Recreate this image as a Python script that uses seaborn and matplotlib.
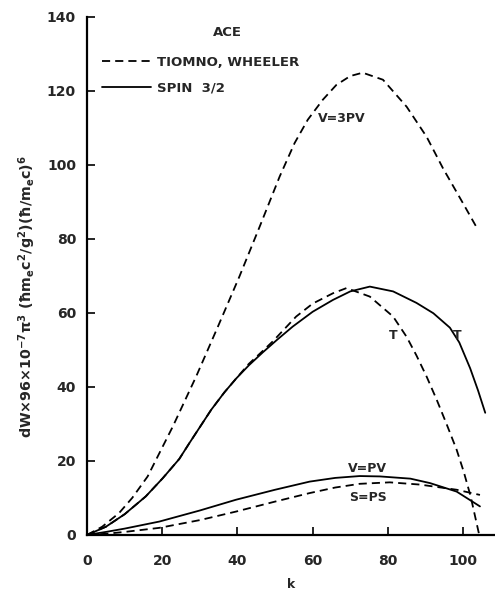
"""
ACE grafiği: dW spektrumu, Tiomno-Wheeler ve spin 3/2 kuplajları karşılaştırması.
Değerler taranmış orijinal şekilden gözle okunmuştur.
"""

import matplotlib
matplotlib.use("Agg")
import matplotlib.pyplot as plt
import numpy as np
import pandas as pd
import seaborn as sns

# eğriler için okunan değerler (k, dW)
k_v3pv = [0, 4, 8.5, 12, 16.1, 22.8, 29, 34.8, 40.5, 45.9, 51.2, 55.2, 58.7, 62.7, 66.3, 70,
          73.3, 78.7, 85, 90.3, 94.7, 100, 104]
w_v3pv = [0, 2.2, 5.9, 10, 15.8, 29.3, 42.8, 56.3, 69.8, 83.3, 96.8, 105.9, 112.2, 117.6, 121.6, 124,
          124.9, 123, 115.7, 107.6, 99, 89.6, 82.4]

k_t_tw = [0, 5, 10, 15.6, 20.1, 24.5, 27.2, 33, 36.5, 39.6, 43, 46.5, 49.4, 55.6, 60, 65.4, 69, 75.2,
          81.4, 85, 87.6, 90.3, 93, 95.6, 98.3, 100.2, 102, 104.3]
w_t_tw = [0, 2.2, 5.6, 10.4, 15.3, 20.5, 24.8, 33.8, 38.5, 42.2, 46.2, 49.5, 52.3, 59, 62.5, 65.3, 66.7, 64.4,
          59, 53.5, 48.5, 42.8, 36.5, 30, 23, 17, 10.5, 0]

k_t_spin = [0, 5, 10, 15.6, 20.1, 24.5, 27.2, 33, 36.5, 39.6, 43, 46.7, 50.5, 54.7, 60, 65.4, 70, 75.2,
            81.4, 87.6, 92.1, 96.5, 99, 101.9, 104, 105.9]
w_t_spin = [0, 2.2, 5.6, 10.4, 15.3, 20.5, 24.8, 33.8, 38.5, 42.2, 45.8, 49.3, 52.7, 56.3, 60.3, 63.5, 65.8,
            67.1, 65.8, 62.7, 59.9, 56, 52, 45, 39, 33]

k_vpv = [0, 5, 10, 19.2, 30, 39.6, 50, 59.2, 66, 72.5, 77.9, 86, 91.2, 98.3, 104.5]
w_vpv = [0, 0.8, 1.7, 3.6, 6.6, 9.5, 12.2, 14.4, 15.4, 15.9, 15.8, 15.2, 14, 11.7, 7.7]

k_sps = [0, 5, 10, 19.2, 30, 39.6, 50, 59.2, 66, 72.5, 80.5, 88.5, 98.3, 104.5]
w_sps = [0, 0.3, 0.8, 1.9, 4, 6.3, 9, 11.3, 12.8, 13.8, 14.2, 13.6, 12.2, 10.8]

TW = "TIOMNO, WHEELER"
SPIN = "SPIN  3/2"

# eğri etiketleri (metin, k, dW)
curve_labels = [("V=3PV", 61.5, 112.5), ("V=PV", 74.6, 18), ("S=PS", 74.6, 10),
                ("T", 81.4, 54), ("T", 98.4, 54)]


def build_frame():
    """Tüm eğrileri uzun formatlı tek tabloya toplar"""
    parts = [
        ("V=3PV", TW, k_v3pv, w_v3pv),
        ("T tw", TW, k_t_tw, w_t_tw),
        ("T spin", SPIN, k_t_spin, w_t_spin),
        ("V=PV", SPIN, k_vpv, w_vpv),
        ("S=PS", TW, k_sps, w_sps),
    ]
    rows = []
    for curve, theory, ks, ws in parts:
        for k, w in zip(ks, ws):
            rows.append({"curve": curve, "theory": theory, "k": k, "w": w})
    return pd.DataFrame(rows)


def main():
    sns.set_theme(style="ticks")
    plt.rcParams["font.family"] = ["DejaVu Sans"]
    plt.rcParams["mathtext.default"] = "bf"

    df = build_frame()

    fig = plt.figure(figsize=(4.95, 6.01), dpi=100)
    ax = fig.add_axes([0.176, 0.11, 0.824, 0.862])

    sns.lineplot(data=df, x="k", y="w", style="theory", units="curve", estimator=None,
                 sort=False, color="black", linewidth=1.3,
                 dashes={TW: (4.5, 2.8), SPIN: ""}, style_order=[TW, SPIN], ax=ax)

    ax.set_xlim(0, 108.5)
    ax.set_ylim(0, 140)
    ax.set_xticks(np.arange(0, 101, 20))
    ax.set_yticks(np.arange(0, 141, 20))
    ax.tick_params(direction="in", length=6, width=1.2, labelsize=10, color="black")
    ax.tick_params(axis="x", pad=14)
    ax.tick_params(axis="y", pad=8)
    for lab in ax.get_xticklabels() + ax.get_yticklabels():
        lab.set_fontweight("bold")

    sns.despine(ax=ax)
    for side in ("left", "bottom"):
        ax.spines[side].set_linewidth(1.6)
        ax.spines[side].set_color("black")

    ax.set_xlabel("k", fontsize=9, fontweight="bold", labelpad=7)
    ax.set_ylabel(r"dW$\times$96$\times$10$^{-7}\pi^3$ ($\hbar$m$_e$c$^2$/g$^2$)($\hbar$/m$_e$c)$^6$",
                  fontsize=10.3, fontweight="bold")
    ax.yaxis.set_label_coords(-0.12, 0.46)

    for text, k, w in curve_labels:
        ax.text(k, w, text, fontsize=9, fontweight="bold", ha="left" if text == "V=3PV" else "center",
                va="center")

    ax.text(37.4, 135.7, "ACE", fontsize=9.5, fontweight="bold", ha="center", va="center")

    leg = ax.legend(loc="upper left", bbox_to_anchor=(0.037, 0.925), frameon=False,
                    borderaxespad=0, borderpad=0, handlelength=3.7, handletextpad=0.45,
                    labelspacing=1.0, fontsize=9.5)
    for t in leg.get_texts():
        t.set_fontweight("bold")
    for h in leg.get_lines():
        h.set_color("black")
        h.set_linewidth(1.3)

    fig.savefig("out.png", dpi=100)


if __name__ == "__main__":
    main()
